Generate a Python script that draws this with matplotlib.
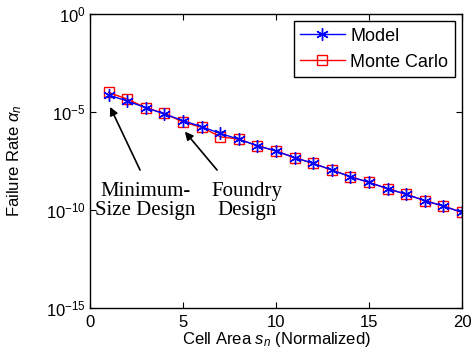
import matplotlib.pyplot as plt
from matplotlib.ticker import FixedLocator, LogFormatterSciNotation, NullLocator

plt.rcParams['font.family'] = ['Liberation Sans', 'DejaVu Sans']
plt.rcParams['mathtext.fontset'] = 'custom'
plt.rcParams['mathtext.rm'] = 'Liberation Sans'
plt.rcParams['mathtext.it'] = 'Liberation Sans:italic'

# dados (expoente em base 10)
area = list(range(1, 21))
log_modelo = [-4.13, -4.44, -4.78, -5.10, -5.44, -5.75, -6.09, -6.39, -6.72, -6.99,
              -7.33, -7.62, -7.96, -8.30, -8.59, -8.91, -9.20, -9.52, -9.80, -10.12]
log_monte_carlo = [-4.00, -4.34, -4.78, -5.07, -5.51, -5.78, -6.26, -6.39, -6.72, -6.99,
                   -7.33, -7.62, -7.96, -8.30, -8.59, -8.91, -9.20, -9.52, -9.80, -10.12]

modelo = [10 ** v for v in log_modelo]
monte_carlo = [10 ** v for v in log_monte_carlo]

fig = plt.figure(figsize=(4.77, 3.64), dpi=100)
ax = fig.add_axes([0.1887, 0.1538, 0.9686 - 0.1887, 0.9615 - 0.1538])

# asterisco estilo MATLAB
asterisco = (6, 2, 0)

l_mc, = ax.semilogy(area, monte_carlo, color='red', marker='s', markersize=7,
                    markerfacecolor='none', markeredgewidth=1, linewidth=1, label='Monte Carlo')
l_mod, = ax.semilogy(area, modelo, color='blue', marker=asterisco, markersize=9,
                     markeredgewidth=1, linewidth=1, label='Model')

ax.set_xlim(0, 20)
ax.set_ylim(1e-15, 1)
ax.set_xticks([0, 5, 10, 15, 20])
ax.yaxis.set_major_locator(FixedLocator([1e-15, 1e-10, 1e-5, 1]))
ax.yaxis.set_minor_locator(NullLocator())
ax.yaxis.set_major_formatter(LogFormatterSciNotation())
ax.tick_params(direction='in', top=True, right=True, labelsize=12, length=4)
ax.tick_params(axis='x', pad=5)
ax.tick_params(axis='y', pad=3)
for s in ax.spines.values():
    s.set_linewidth(1)

ax.set_xlabel(r'Cell Area $s_n$ (Normalized)', fontsize=12, labelpad=0)
ax.set_ylabel(r'Failure Rate $\alpha_n$', fontsize=12)
ax.yaxis.set_label_coords(-0.178, 0.5)

leg = ax.legend([l_mod, l_mc], ['Model', 'Monte Carlo'], loc='upper right', fontsize=13,
                fancybox=False, edgecolor='black', framealpha=1, borderaxespad=0.4,
                handlelength=2.5, handletextpad=0.3, borderpad=0.35, labelspacing=0.5)
leg.get_frame().set_linewidth(1)

fonte_serif = dict(ha='center', va='center', fontsize=15, family='Liberation Serif',
                   linespacing=1.0)
seta = dict(arrowstyle='-|>', color='black', lw=1.2, mutation_scale=12,
            shrinkA=0, shrinkB=0)

ax.text(2.96, 10 ** -9.55, 'Minimum-\nSize Design', **fonte_serif)
ax.text(8.44, 10 ** -9.55, 'Foundry\nDesign', **fonte_serif)
ax.annotate('', xy=(1.08, 10 ** -4.74), xytext=(2.69, 10 ** -7.96), arrowprops=seta)
ax.annotate('', xy=(5.1, 10 ** -6.0), xytext=(6.83, 10 ** -7.96), arrowprops=seta)

fig.savefig('out.png', dpi=100)
